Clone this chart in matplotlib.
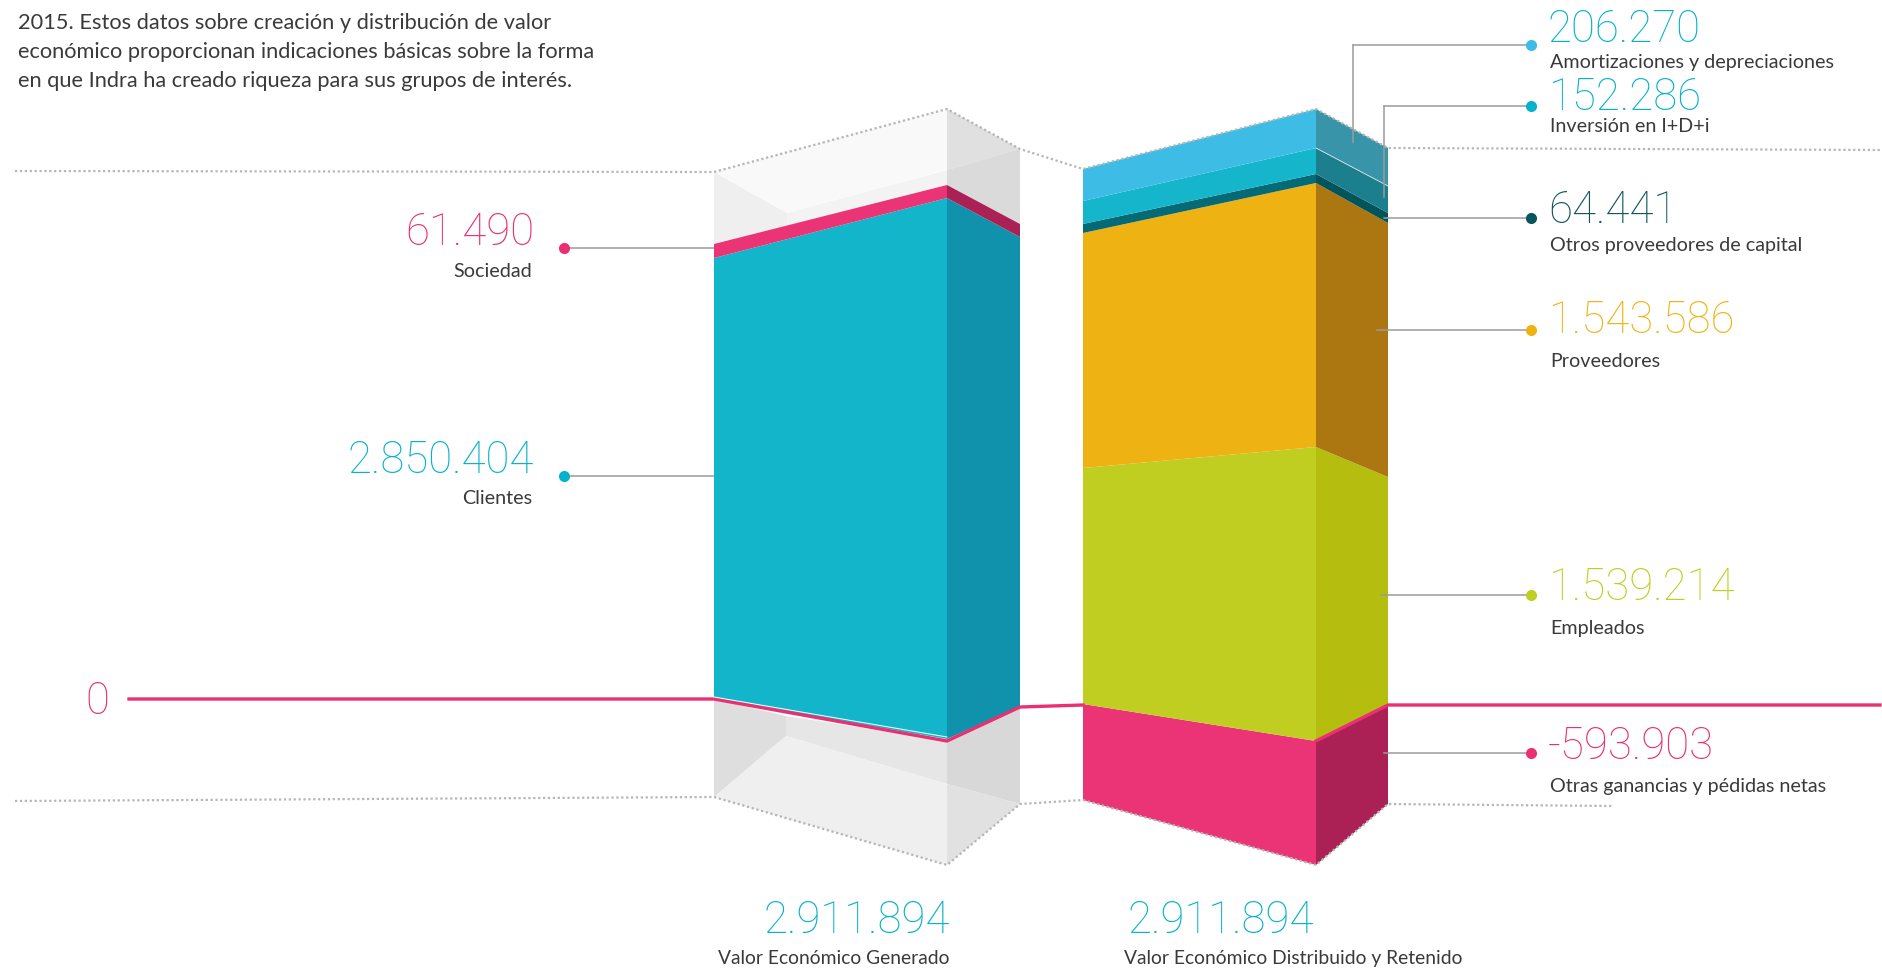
import numpy as np
import matplotlib
matplotlib.use("Agg")
import matplotlib.pyplot as plt

W, H = 1883, 969

# values (miles de euros)
generado_names = ["Clientes", "Sociedad"]
generado_vals = [2850404, 61490]
generado_cols = ["#13b5cb", "#ea3476"]
generado_side = ["#1091ac", "#ab2155"]

distrib_names = ["Empleados", "Proveedores", "Otros proveedores de capital",
                 "Inversión en I+D+i", "Amortizaciones y depreciaciones"]
distrib_vals = [1539214, 1543586, 64441, 152286, 206270]
distrib_cols = ["#bfce21", "#eeb313", "#046a76", "#15b5cc", "#3dbde6"]
distrib_side = ["#b5bd0f", "#ac7710", "#02545b", "#1c7f8e", "#3894a8"]
negativo = -593903
total = 2911894

intro = ["2015. Estos datos sobre creación y distribución de valor",
         "económico proporcionan indicaciones básicas sobre la forma",
         "en que Indra ha creado riqueza para sus grupos de interés."]

num_font = ["Roboto", "DejaVu Sans"]
txt_font = ["Lato", "Roboto", "DejaVu Sans"]
TXT = "#3a3a3a"
PINK = "#ea2f72"
TEAL = "#06b2cb"

fig = plt.figure(figsize=(W / 100, H / 100), dpi=100)
ax = fig.add_axes([0, 0, 1, 1])
ax.set_xlim(0, W)
ax.set_ylim(H, 0)
ax.axis("off")

# the drawing is a hand made perspective, so every vertical edge has its own value scale
top_val = sum(distrib_vals)
knots_l = [negativo, 0, generado_vals[0], total, top_val]
edges_l = {"x": [714, 947, 1020],
           "y": [[797, 699, 258, 244, 172],
                 [865, 739, 198, 185, 109],
                 [804, 707, 237, 224, 149]]}
knots_r = [negativo, 0] + list(np.cumsum(distrib_vals))
edges_r = {"x": [1083, 1316, 1388],
           "y": [[800, 704, 468, 233, 224, 201, 169],
                 [865, 741, 447, 183, 174, 148, 109],
                 [804, 704, 477, 223, 213, 186, 148]]}


def scale(val, i, knots, edges):
    return np.interp(val, knots, edges["y"][i])


def block(lo, hi, col, side, knots, edges):
    xs = edges["x"]
    y0 = [scale(lo, i, knots, edges) for i in range(3)]
    y1 = [scale(hi, i, knots, edges) for i in range(3)]
    ax.fill([xs[0], xs[1], xs[1], xs[0]], [y0[0], y0[1], y1[1], y1[0]], color=col, lw=0, zorder=3)
    ax.fill([xs[1], xs[2], xs[2], xs[1]], [y0[1], y0[2], y1[2], y1[1]], color=side, lw=0, zorder=3)


# ghost box, upper part
ax.fill([714, 787, 787, 714], [172, 213, 226, 244], color="#efefef", lw=0, zorder=1)
ax.fill([787, 947, 947, 787], [213, 170, 185, 226], color="#f3f3f3", lw=0, zorder=1)
ax.fill([714, 947, 1020, 787], [172, 109, 149, 213], color="#f9f9f9", lw=0, zorder=1)
ax.fill([947, 1020, 947], [109, 149, 170], color="#e0e0e0", lw=0, zorder=1)
ax.fill([947, 1020, 1020, 947], [170, 149, 224, 185], color="#dadada", lw=0, zorder=1)
# ghost box, lower part
ax.fill([714, 786, 786, 714], [699, 716, 736, 797], color="#dedede", lw=0, zorder=1)
ax.fill([786, 947, 947, 786], [716, 741, 784, 736], color="#e6e6e6", lw=0, zorder=1)
ax.fill([714, 786, 947, 947], [797, 736, 784, 865], color="#efefef", lw=0, zorder=1)
ax.fill([947, 1020, 1020, 947], [741, 707, 804, 784], color="#d8d8d8", lw=0, zorder=1)
ax.fill([947, 1020, 947], [784, 804, 865], color="#e1e1e1", lw=0, zorder=1)

# stacks
cum = 0
for v, c, s in zip(generado_vals, generado_cols, generado_side):
    block(cum, cum + v, c, s, knots_l, edges_l)
    cum += v
block(negativo, 0, "#ea3476", "#ab2155", knots_r, edges_r)
cum = 0
for v, c, s in zip(distrib_vals, distrib_cols, distrib_side):
    block(cum, cum + v, c, s, knots_r, edges_r)
    cum += v

# dotted guides
dots = dict(color="#b5b5b5", lw=1.6, ls=(0, (1, 1.2)), zorder=4)
ax.plot([15, 714, 947, 1020, 1083, 1316, 1388, 1880],
        [171, 172, 109, 149, 169, 109, 148, 150], **dots)
ax.plot([15, 714, 947, 1020, 1083, 1316, 1388, 1614],
        [801, 797, 865, 804, 800, 865, 804, 806], **dots)

# zero line
ax.plot([129, 714, 947, 1020, 1083], [699, 699, 741, 707, 705], color=PINK, lw=2.4, zorder=5)
ax.plot([1316, 1388, 1880], [741, 705, 705], color=PINK, lw=2.4, zorder=5)
ax.plot([714, 947], [697, 737], color="white", lw=0.7, zorder=5)
ax.plot([1316, 1388], [148, 186], color="#d8e8ec", lw=0.6, zorder=5)

# value labels: number, name, colour, dot and leader
lbl_left = [("61.490", "Sociedad", PINK, 248, 245, 277),
            ("2.850.404", "Clientes", TEAL, 476, 473, 504)]
for num, name, c, yd, yn, yt in lbl_left:
    ax.plot([564, 714], [yd, yd], color="#9b9b9b", lw=1.1, zorder=2)
    ax.plot([564], [yd], "o", color=c, ms=8, mew=0, zorder=6)
    ax.text(534, yn, num, color=c, fontsize=31.5, family=num_font, weight="light",
            ha="right", va="baseline")
    ax.text(532, yt, name, color=TXT, fontsize=14.2, family=txt_font,
            ha="right", va="baseline")

lbl_right = [("206.270", "Amortizaciones y depreciaciones", "#3dbde6", TEAL, 1353, 45, 42, 68),
             ("152.286", "Inversión en I+D+i", TEAL, TEAL, 1384, 106, 110, 132),
             ("64.441", "Otros proveedores de capital", "#04565c", "#12565c", 1384, 218, 223, 251),
             ("1.543.586", "Proveedores", "#eeb313", "#eeb313", 1377, 330, 333, 367),
             ("1.539.214", "Empleados", "#bfce21", "#bfce21", 1381, 595, 600, 634),
             ("-593.903", "Otras ganancias y pédidas netas", PINK, PINK, 1384, 753, 759, 792)]
for num, name, dc, c, x0, yd, yn, yt in lbl_right:
    ax.plot([x0, 1531], [yd, yd], color="#9b9b9b", lw=1.1, zorder=6)
    ax.plot([1531], [yd], "o", color=dc, ms=8, mew=0, zorder=6)
    ax.text(1548, yn, num, color=c, fontsize=31.5, family=num_font, weight="light",
            ha="left", va="baseline")
    ax.text(1550, yt, name, color=TXT, fontsize=14.2, family=txt_font,
            ha="left", va="baseline")
# the two upper leaders drop onto the side face
ax.plot([1353, 1353], [45, 142], color="#9b9b9b", lw=1.1, zorder=6)
ax.plot([1384, 1384], [106, 197], color="#9b9b9b", lw=1.1, zorder=6)

ax.text(97, 714, "0", color=PINK, fontsize=31.5, family=num_font, weight="light",
        ha="center", va="baseline")

for num_x, xc, name in zip([950, 1314], [833.5, 1293],
                           ["Valor Económico Generado", "Valor Económico Distribuido y Retenido"]):
    ax.text(num_x, 933, f"{total:,}".replace(",", "."), color=TEAL, fontsize=31.5, family=num_font,
            weight="light", ha="right", va="baseline")
    ax.text(xc, 964, name, color=TXT, fontsize=13.9, family=txt_font,
            ha="center", va="baseline")

for i, line in enumerate(intro):
    ax.text(18, 29 + 29 * i, line, color=TXT, fontsize=15.7, family=txt_font,
            ha="left", va="baseline")

fig.savefig("out.png", dpi=100)
